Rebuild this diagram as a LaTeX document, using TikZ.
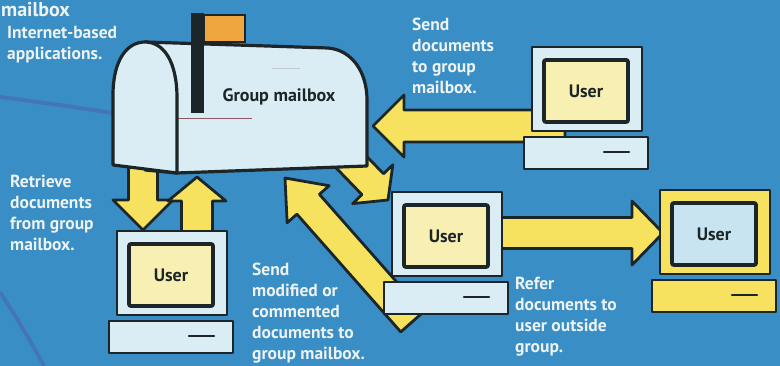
\documentclass[tikz,border=0pt]{standalone}
\usepackage{fontspec}
\setmainfont{PT Sans}
\usetikzlibrary{calc}

\definecolor{bg}{RGB}{58,142,198}
\definecolor{ink}{RGB}{28,38,40}
\definecolor{pale}{RGB}{218,237,244}
\definecolor{cream}{RGB}{248,240,178}
\definecolor{sun}{RGB}{247,226,96}
\definecolor{flagorange}{RGB}{240,166,62}
\definecolor{labelwhite}{RGB}{238,243,242}
\definecolor{streak}{RGB}{80,90,165}
\definecolor{screenblue}{RGB}{200,228,240}
\definecolor{seam}{RGB}{140,90,95}

\tikzset{
  lbl/.style={text=labelwhite, font=\bfseries\fontsize{17.5}{21}\selectfont,
    align=left, anchor=north west, inner sep=0pt},
  fat/.style={draw=ink, fill=sun, line width=2.8pt, line join=round},
  outline/.style={draw=ink, line width=2.8pt, line join=round},
  screenframe/.style={draw=ink, line width=3.8pt, rounded corners=2pt},
  usertext/.style={text=ink, font=\bfseries\fontsize{18}{20}\selectfont, inner sep=0pt},
}

% broad block arrow from coordinate #1 (tail) to coordinate #2 (tip)
% #3 half body width, #4 half head width, #5 head length
\newcommand{\fatarrow}[5]{%
  \coordinate (fa-h) at ($(#2)!#5!(#1)$);
  \draw[fat] ($(#1)!#3!90:(#2)$) -- ($(fa-h)!#3!90:(#2)$) -- ($(fa-h)!#4!90:(#2)$)
    -- (#2) -- ($(fa-h)!#4!-90:(#2)$) -- ($(fa-h)!#3!-90:(#2)$) -- ($(#1)!#3!-90:(#2)$) -- cycle;
}

% desktop computer: #1 name, #2,#3 top-left of monitor, #4 casing fill, #5 screen fill
\newcommand{\usercomputer}[5]{%
  \begin{scope}[shift={(#2,#3)}]
    \draw[outline, fill=#4] (0,0) rectangle (110,84);
    \draw[screenframe, fill=#5] (12,13) rectangle (96,75);
    \node[usertext] (#1) at (54,44) {User};
    \draw[outline, fill=#4] (-8,90) rectangle (116,122);
    \draw[ink, line width=2.6pt, line cap=round] (72,105) -- (97,105);
  \end{scope}}

\begin{document}
\begin{tikzpicture}[x=1pt, y=-1pt]
  \useasboundingbox (0,0) rectangle (780,366);
  \clip (0,0) rectangle (780,366);
  \fill[bg] (0,0) rectangle (780,366);

  % faint streaks in the backdrop
  \draw[streak, opacity=0.45, line width=4pt] (0,97) .. controls (40,102) and (80,108) .. (112,113);
  \draw[streak, opacity=0.45, line width=4pt] (0,292) .. controls (15,315) and (30,340) .. (44,366);

  % arrow end points
  \coordinate (a1-tail) at (565,126);  \coordinate (a1-tip) at (373,126);
  \coordinate (a2-tail) at (143,160);  \coordinate (a2-tip) at (143,230);
  \coordinate (a3-tail) at (197,240);  \coordinate (a3-tip) at (197,177);
  \coordinate (a4-tail) at (412,322);  \coordinate (a4-tip) at (285,178);
  \coordinate (a5-tail) at (330,140);  \coordinate (a5-tip) at (388,200);
  \coordinate (a6-tail) at (495,233);  \coordinate (a6-tip) at (663,233);

  \fatarrow{a1-tail}{a1-tip}{16pt}{31pt}{31pt}
  \fatarrow{a2-tail}{a2-tip}{14.5pt}{30pt}{30pt}
  \fatarrow{a3-tail}{a3-tip}{15.5pt}{29pt}{24pt}
  \fatarrow{a4-tail}{a4-tip}{15pt}{28pt}{35pt}
  \fatarrow{a5-tail}{a5-tip}{15pt}{28pt}{22pt}
  \fatarrow{a6-tail}{a6-tip}{15.5pt}{32pt}{31pt}

  % mailbox body
  \draw[outline, line width=3.2pt, fill=pale] (145,42) -- (328,48) .. controls (352,50) and (367,72) .. (367,100)
    -- (367,166) -- (177,173) -- (145,170) -- cycle;
  \draw[seam, line width=0.8pt] (178,118) -- (252,118);
  \draw[ink!25, line width=0.8pt] (272,68) -- (300,68);
  % mailbox front
  \draw[outline, line width=3.2pt, fill=pale] (113,165) -- (113,95) .. controls (113,60) and (127,42) .. (145,42)
    .. controls (164,42) and (177,62) .. (177,98) -- (177,173) -- cycle;
  % flag
  \fill[ink] (191,13) rectangle (204,113);
  \draw[ink, line width=2.4pt, fill=flagorange] (204,15) rectangle (245,42);
  \node[usertext] (mbox) at (279,97) {Group mailbox};

  % computers
  \usercomputer{user1}{532}{47}{pale}{cream}
  \usercomputer{user2}{392}{192}{pale}{cream}
  \usercomputer{user3}{117}{231}{pale}{cream}
  \usercomputer{user4}{660}{190}{sun}{screenblue}

  % captions
  \node[lbl, font=\bfseries\fontsize{20}{24}\selectfont, anchor=base west] (cap-head) at (1,17) {mailbox};
  \node[lbl] (cap-top) at (7,26) {Internet-based\\applications.};
  \node[lbl] (cap-send) at (412,18) {Send\\documents\\to group\\mailbox.};
  \node[lbl] (cap-retr) at (10,175) {Retrieve\\documents\\from group\\mailbox.};
  \node[lbl] (cap-mod) at (252,263) {Send\\modified or\\commented\\documents to\\group mailbox.};
  \node[lbl] (cap-ref) at (515,277) {Refer\\documents to\\user outside\\group.};
\end{tikzpicture}
\end{document}
